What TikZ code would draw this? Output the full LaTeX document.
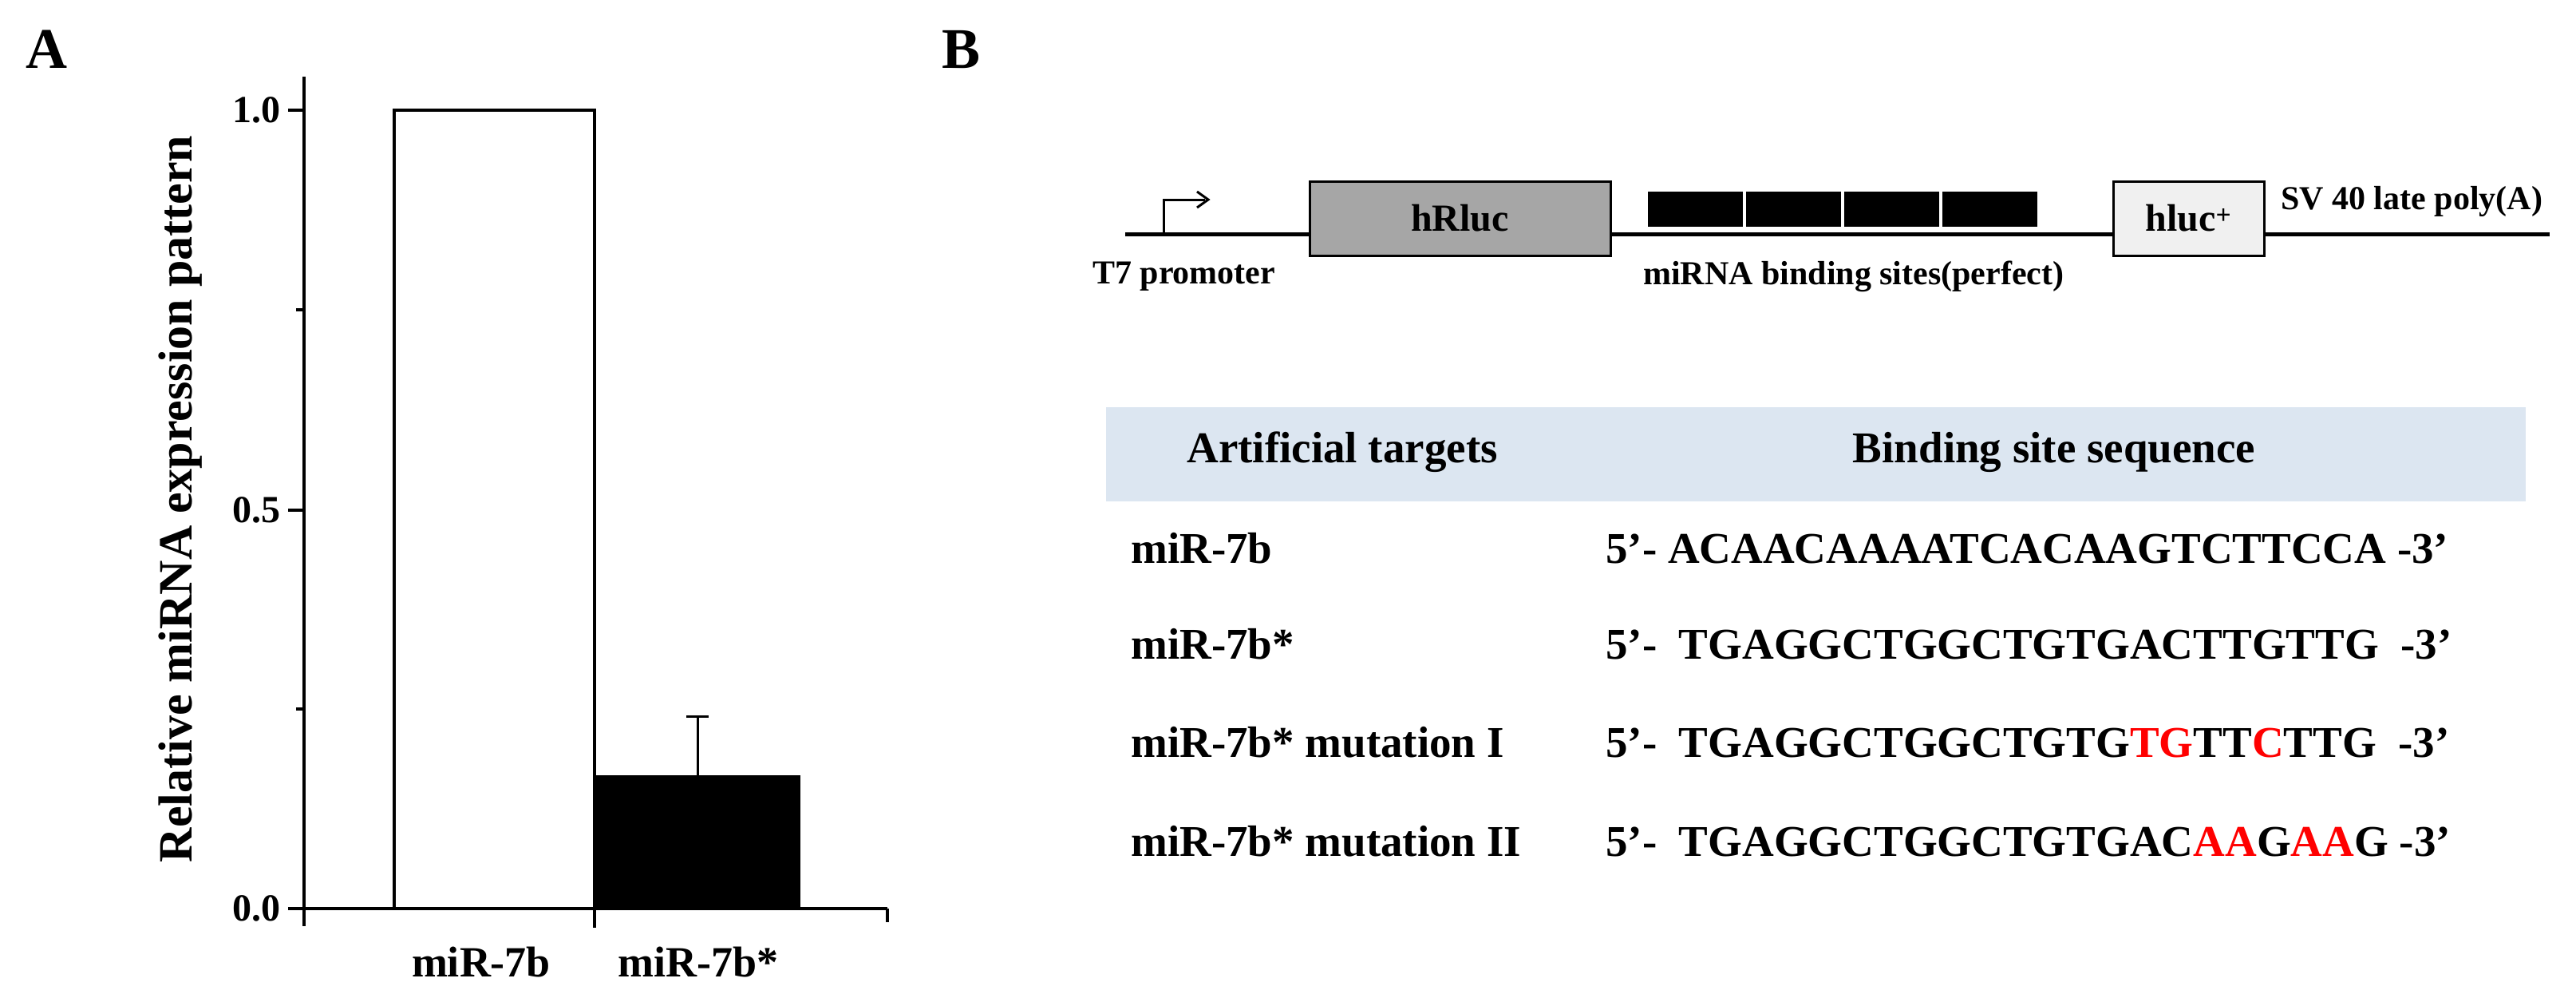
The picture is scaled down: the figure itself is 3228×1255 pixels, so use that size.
\documentclass[tikz,border=0pt]{standalone}
\usepackage{fontspec}
\setmainfont{Liberation Serif}
\definecolor{hdr}{RGB}{220,230,241}
\begin{document}
\begin{tikzpicture}[x=1pt,y=-1pt,
  every node/.style={inner sep=0pt,font=\bfseries},
  ax/.style={line width=4.5pt},
  tl/.style={anchor=east,font=\fontsize{48}{52}\selectfont\bfseries},
  tx/.style={font=\fontsize{54}{58}\selectfont\bfseries},
  sm/.style={font=\fontsize{42}{46}\selectfont\bfseries},
  row/.style={anchor=west,font=\fontsize{55}{60}\selectfont\bfseries}]
\useasboundingbox (0,0) rectangle (3228,1255);
% panel labels
\node[font=\fontsize{72}{76}\selectfont\bfseries] (A) at (58,62) {A};
\node[font=\fontsize{72}{76}\selectfont\bfseries] (B) at (1204,62) {B};
% chart A
\draw[line width=4pt,fill=white] (494,1138) rectangle (745,138);
\fill (745,1138) rectangle (1003,971);
\draw[line width=3pt] (874,971) -- (874,897) (860,897) -- (888,897);
\draw[ax] (381,96) -- (381,1160);
\draw[ax] (381,1138) -- (1112,1138);
\draw[ax] (745,1138) -- (745,1162) (1112,1138) -- (1112,1155);
\foreach \y in {138,639,1138} \draw[ax] (361,\y) -- (381,\y);
\foreach \y in {388,888} \draw[ax] (371,\y) -- (381,\y);
\node[tl] (t1) at (352,138) {1.0};
\node[tl] (t2) at (352,639) {0.5};
\node[tl] (t0) at (352,1138) {0.0};
\node[font=\fontsize{60}{64}\selectfont\bfseries,rotate=90] (ylab) at (226,625) {Relative miRNA expression pattern};
\node[tx] (x1) at (603,1205) {miR-7b};
\node[tx] (x2) at (875,1205) {miR-7b*};
% construct
\draw[line width=5pt] (1410,293) -- (3195,293);
\draw[line width=3pt] (1458,293) -- (1458,250) -- (1510,250);
\draw[line width=3pt] (1500,240) -- (1514,250) -- (1500,260);
\node[draw,line width=3pt,fill=black!35,minimum width=377pt,minimum height=93pt,font=\fontsize{48}{52}\selectfont\bfseries] (hR) at (1829.5,273.5) {hRluc};
\foreach \i in {0,1,2,3} \fill (2065+\i*123,240) rectangle (2065+\i*123+119,284);
\node[draw,line width=3pt,fill=black!6,minimum width=189pt,minimum height=93pt,font=\fontsize{48}{52}\selectfont\bfseries] (hl) at (2742.5,273.5) {hluc\textsuperscript{+}};
\node[sm,anchor=west] (sv) at (2858,252) {SV 40 late poly(A)};
\node[sm,anchor=west] (t7) at (1369,346) {T7 promoter};
\node[sm,anchor=west] (mb) at (2059,346) {miRNA binding sites(perfect)};
% table
\fill[hdr] (1386,510) rectangle (3165,628);
\node[row,anchor=center] (h1) at (1682,566) {Artificial targets};
\node[row,anchor=center] (h2) at (2574,566) {Binding site sequence};
\node[row] (r1) at (1417,687) {miR-7b};
\node[row] (r2) at (1417,807) {miR-7b*};
\node[row] (r3) at (1417,930) {miR-7b* mutation I};
\node[row] (r4) at (1417,1054) {miR-7b* mutation II};
\node[row] (s1) at (2012,687) {5’- ACAACAAAATCACAAGTCTTCCA -3’};
\node[row] (s2) at (2012,807) {5’-\ \ TGAGGCTGGCTGTGACTTGTTG\ \ -3’};
\node[row] (s3) at (2012,930) {5’-\ \ TGAGGCTGGCTGTG\textcolor{red}{TG}TT\textcolor{red}{C}TTG\ \ -3’};
\node[row] (s4) at (2012,1054) {5’-\ \ TGAGGCTGGCTGTGAC\textcolor{red}{AA}G\textcolor{red}{AA}G -3’};
\end{tikzpicture}
\end{document}
